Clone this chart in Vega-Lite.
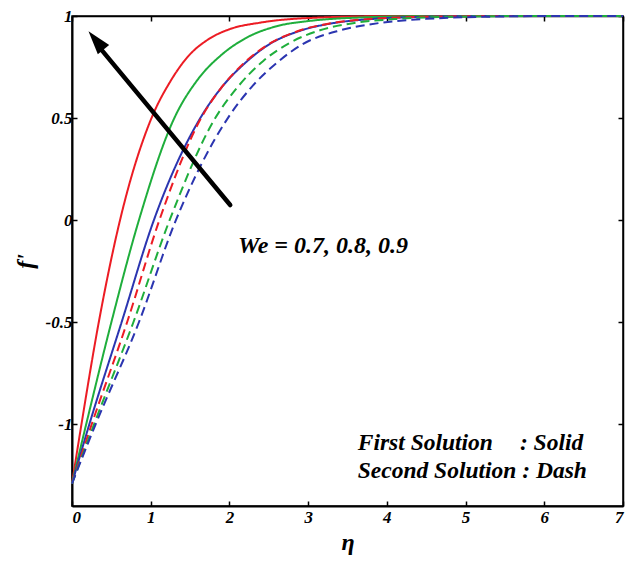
{
  "$schema": "https://vega.github.io/schema/vega-lite/v6.json",
  "width": 551,
  "height": 490,
  "autosize": {"type": "none"},
  "padding": {"left": 72, "top": 16, "right": 8, "bottom": 61},
  "background": "white",
  "config": {
    "view": {"stroke": "black", "strokeWidth": 1.5},
    "font": "Liberation Serif, Times New Roman, serif",
    "axis": {
      "domainColor": "black", "domainWidth": 2, "tickColor": "black", "tickWidth": 1.5,
      "grid": false, "labelFont": "Liberation Serif, Times New Roman, serif", "labelFontWeight": "bold", "labelFontStyle": "italic",
      "labelFontSize": 17, "labelColor": "black", "titleFont": "Liberation Serif, Times New Roman, serif", "titleFontWeight": "bold",
      "titleFontStyle": "italic", "titleColor": "black"
    }
  },
  "datasets": {
    "curves": [
      {"We": 0.9, "sol": "First", "eta": 0, "f": -1.29}, {"We": 0.9, "sol": "First", "eta": 0.12, "f": -1}, {"We": 0.9, "sol": "First", "eta": 0.34, "f": -0.5}, {"We": 0.9, "sol": "First", "eta": 0.61, "f": 0}, {"We": 0.9, "sol": "First", "eta": 1.01, "f": 0.5}, {"We": 0.9, "sol": "First", "eta": 1.25, "f": 0.68}, {"We": 0.9, "sol": "First", "eta": 1.47, "f": 0.8}, {"We": 0.9, "sol": "First", "eta": 1.75, "f": 0.89}, {"We": 0.9, "sol": "First", "eta": 2.0, "f": 0.935}, {"We": 0.9, "sol": "First", "eta": 2.4, "f": 0.968}, {"We": 0.9, "sol": "First", "eta": 3.0, "f": 0.99}, {"We": 0.9, "sol": "First", "eta": 4.0, "f": 0.999}, {"We": 0.9, "sol": "First", "eta": 7, "f": 1},
      {"We": 0.8, "sol": "First", "eta": 0, "f": -1.29}, {"We": 0.8, "sol": "First", "eta": 0.18, "f": -1}, {"We": 0.8, "sol": "First", "eta": 0.5, "f": -0.5}, {"We": 0.8, "sol": "First", "eta": 0.85, "f": 0}, {"We": 0.8, "sol": "First", "eta": 1.3, "f": 0.5}, {"We": 0.8, "sol": "First", "eta": 1.6, "f": 0.69}, {"We": 0.8, "sol": "First", "eta": 1.9, "f": 0.81}, {"We": 0.8, "sol": "First", "eta": 2.2, "f": 0.89}, {"We": 0.8, "sol": "First", "eta": 2.6, "f": 0.95}, {"We": 0.8, "sol": "First", "eta": 3.0, "f": 0.975}, {"We": 0.8, "sol": "First", "eta": 3.5, "f": 0.99}, {"We": 0.8, "sol": "First", "eta": 4.5, "f": 0.999}, {"We": 0.8, "sol": "First", "eta": 7, "f": 1},
      {"We": 0.7, "sol": "First", "eta": 0, "f": -1.29}, {"We": 0.7, "sol": "First", "eta": 0.22, "f": -1}, {"We": 0.7, "sol": "First", "eta": 0.63, "f": -0.5}, {"We": 0.7, "sol": "First", "eta": 1.04, "f": 0}, {"We": 0.7, "sol": "First", "eta": 1.63, "f": 0.5}, {"We": 0.7, "sol": "First", "eta": 1.9, "f": 0.65}, {"We": 0.7, "sol": "First", "eta": 2.2, "f": 0.77}, {"We": 0.7, "sol": "First", "eta": 2.5, "f": 0.86}, {"We": 0.7, "sol": "First", "eta": 2.9, "f": 0.928}, {"We": 0.7, "sol": "First", "eta": 3.3, "f": 0.964}, {"We": 0.7, "sol": "First", "eta": 3.8, "f": 0.985}, {"We": 0.7, "sol": "First", "eta": 4.5, "f": 0.996}, {"We": 0.7, "sol": "First", "eta": 5.5, "f": 1}, {"We": 0.7, "sol": "First", "eta": 7, "f": 1},
      {"We": 0.9, "sol": "Second", "eta": 0, "f": -1.29}, {"We": 0.9, "sol": "Second", "eta": 0.25, "f": -1}, {"We": 0.9, "sol": "Second", "eta": 0.7, "f": -0.5}, {"We": 0.9, "sol": "Second", "eta": 1.11, "f": 0}, {"We": 0.9, "sol": "Second", "eta": 1.64, "f": 0.5}, {"We": 0.9, "sol": "Second", "eta": 1.9, "f": 0.65}, {"We": 0.9, "sol": "Second", "eta": 2.2, "f": 0.775}, {"We": 0.9, "sol": "Second", "eta": 2.5, "f": 0.862}, {"We": 0.9, "sol": "Second", "eta": 2.9, "f": 0.93}, {"We": 0.9, "sol": "Second", "eta": 3.3, "f": 0.965}, {"We": 0.9, "sol": "Second", "eta": 3.8, "f": 0.986}, {"We": 0.9, "sol": "Second", "eta": 4.5, "f": 0.996}, {"We": 0.9, "sol": "Second", "eta": 5.5, "f": 1}, {"We": 0.9, "sol": "Second", "eta": 7, "f": 1},
      {"We": 0.8, "sol": "Second", "eta": 0, "f": -1.29}, {"We": 0.8, "sol": "Second", "eta": 0.28, "f": -1}, {"We": 0.8, "sol": "Second", "eta": 0.78, "f": -0.5}, {"We": 0.8, "sol": "Second", "eta": 1.24, "f": 0}, {"We": 0.8, "sol": "Second", "eta": 1.82, "f": 0.5}, {"We": 0.8, "sol": "Second", "eta": 2.1, "f": 0.65}, {"We": 0.8, "sol": "Second", "eta": 2.43, "f": 0.78}, {"We": 0.8, "sol": "Second", "eta": 2.75, "f": 0.865}, {"We": 0.8, "sol": "Second", "eta": 3.15, "f": 0.93}, {"We": 0.8, "sol": "Second", "eta": 3.57, "f": 0.965}, {"We": 0.8, "sol": "Second", "eta": 4.1, "f": 0.985}, {"We": 0.8, "sol": "Second", "eta": 4.8, "f": 0.996}, {"We": 0.8, "sol": "Second", "eta": 5.8, "f": 1}, {"We": 0.8, "sol": "Second", "eta": 7, "f": 1},
      {"We": 0.7, "sol": "Second", "eta": 0, "f": -1.29}, {"We": 0.7, "sol": "Second", "eta": 0.3, "f": -1}, {"We": 0.7, "sol": "Second", "eta": 0.85, "f": -0.5}, {"We": 0.7, "sol": "Second", "eta": 1.32, "f": 0}, {"We": 0.7, "sol": "Second", "eta": 1.98, "f": 0.5}, {"We": 0.7, "sol": "Second", "eta": 2.3, "f": 0.66}, {"We": 0.7, "sol": "Second", "eta": 2.6, "f": 0.77}, {"We": 0.7, "sol": "Second", "eta": 2.92, "f": 0.86}, {"We": 0.7, "sol": "Second", "eta": 3.41, "f": 0.93}, {"We": 0.7, "sol": "Second", "eta": 3.91, "f": 0.966}, {"We": 0.7, "sol": "Second", "eta": 4.5, "f": 0.986}, {"We": 0.7, "sol": "Second", "eta": 5.2, "f": 0.996}, {"We": 0.7, "sol": "Second", "eta": 6.2, "f": 1}, {"We": 0.7, "sol": "Second", "eta": 7, "f": 1}
    ],
    "arrow": [{"eta": 2.01, "f": 0.074, "eta2": 0.32, "f2": 0.86}],
    "head": [{"eta": 0.305, "f": 0.88}],
    "note1": [{"eta": 2.11, "f": -0.16, "label": "We = 0.7, 0.8, 0.9"}],
    "note2": [
      {"eta": 3.63, "f": -1.127, "label": "First Solution"},
      {"eta": 5.69, "f": -1.127, "label": ": Solid"},
      {"eta": 3.63, "f": -1.265, "label": "Second Solution : Dash"}
    ]
  },
  "resolve": {"axis": {"x": "independent", "y": "independent"}},
  "layer": [
    {
      "data": {"name": "curves"},
      "mark": {"type": "line", "strokeWidth": 2, "interpolate": "monotone"},
      "encoding": {
        "x": {"field": "eta", "type": "quantitative", "scale": {"domain": [0, 7], "nice": false},
          "axis": {"orient": "bottom", "values": [0, 1, 2, 3, 4, 5, 6, 7], "tickSize": -5, "labelPadding": 8, "labelFontSize": 17, "title": "η", "titleFontSize": 24, "titlePadding": 5}},
        "y": {"field": "f", "type": "quantitative", "scale": {"domain": [-1.4, 1], "nice": false, "zero": false},
          "axis": {"orient": "left", "values": [-1, -0.5, 0, 0.5, 1], "tickSize": -5, "labelPadding": 5, "labelFontSize": 17,
            "labelExpr": "datum.value < 0 ? '-' + format(-datum.value, '') : format(datum.value, '')",
            "title": "f'", "titleFontSize": 24, "titlePadding": 8}},
        "color": {"field": "We", "type": "nominal", "scale": {"domain": [0.7, 0.8, 0.9], "range": ["#2b35b0", "#1fae3c", "#ec1c24"]}, "legend": null},
        "strokeDash": {"field": "sol", "type": "nominal", "scale": {"domain": ["First", "Second"], "range": [[1, 0], [9, 5]]}, "legend": null}
      }
    },
    {
      "data": {"name": "arrow"},
      "mark": {"type": "rule", "color": "black", "strokeWidth": 4.5, "strokeCap": "round"},
      "encoding": {
        "x": {"field": "eta", "type": "quantitative", "axis": {"orient": "top", "values": [0, 1, 2, 3, 4, 5, 6, 7], "tickSize": -5, "labels": false, "title": null, "domainWidth": 1.5}},
        "y": {"field": "f", "type": "quantitative", "axis": {"orient": "right", "values": [-1, -0.5, 0, 0.5, 1], "tickSize": -5, "labels": false, "title": null, "domainWidth": 1.5}},
        "x2": {"field": "eta2"},
        "y2": {"field": "f2"}
      }
    },
    {
      "data": {"name": "head"},
      "mark": {"type": "point", "shape": "M0,-1L0.62,1L-0.62,1Z", "size": 560, "filled": true, "color": "black", "opacity": 1, "angle": -39.4},
      "encoding": {
        "x": {"field": "eta", "type": "quantitative", "axis": null},
        "y": {"field": "f", "type": "quantitative", "axis": null}
      }
    },
    {
      "data": {"name": "note1"},
      "mark": {"type": "text", "align": "left", "baseline": "alphabetic", "font": "Liberation Serif, Times New Roman, serif", "fontWeight": "bold", "fontStyle": "italic", "fontSize": 24, "color": "black"},
      "encoding": {
        "x": {"field": "eta", "type": "quantitative", "axis": null},
        "y": {"field": "f", "type": "quantitative", "axis": null},
        "text": {"field": "label"}
      }
    },
    {
      "data": {"name": "note2"},
      "mark": {"type": "text", "align": "left", "baseline": "alphabetic", "font": "Liberation Serif, Times New Roman, serif", "fontWeight": "bold", "fontStyle": "italic", "fontSize": 23.5, "color": "black"},
      "encoding": {
        "x": {"field": "eta", "type": "quantitative", "axis": null},
        "y": {"field": "f", "type": "quantitative", "axis": null},
        "text": {"field": "label"}
      }
    }
  ]
}
